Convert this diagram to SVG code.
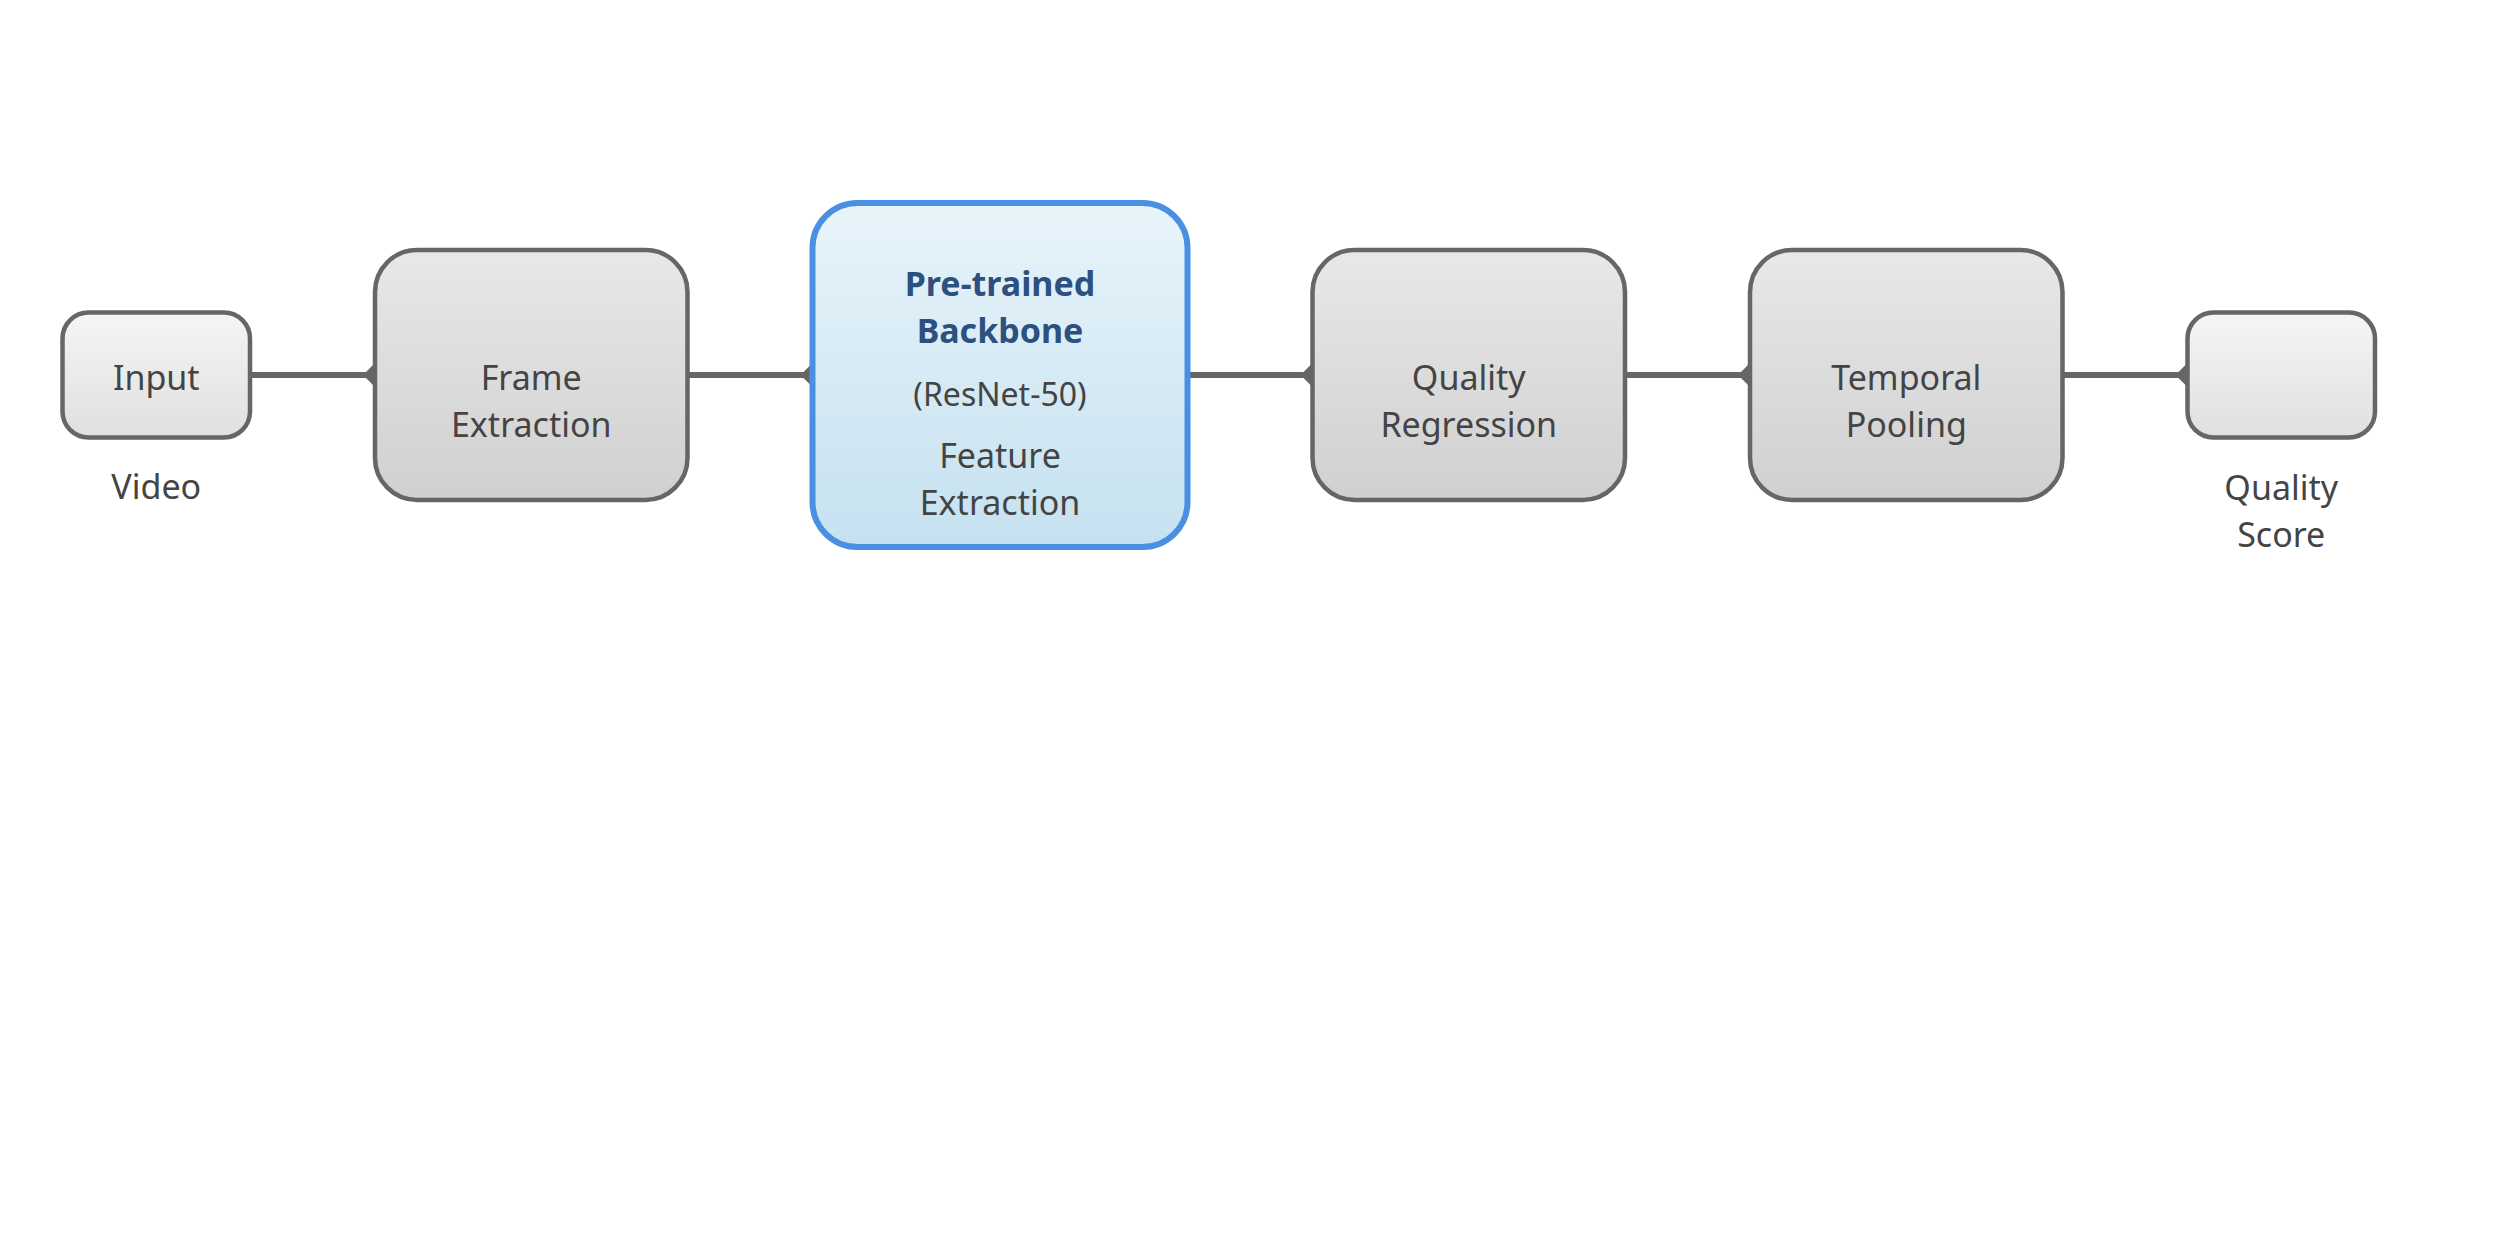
<svg xmlns="http://www.w3.org/2000/svg" width="2500" height="1250" viewBox="0 0 2500 1250">
  <defs>
    <linearGradient id="gSmall" x1="0" y1="0" x2="0" y2="1">
      <stop offset="0" stop-color="#f5f5f5"/>
      <stop offset="1" stop-color="#e0e0e0"/>
    </linearGradient>
    <linearGradient id="gBig" x1="0" y1="0" x2="0" y2="1">
      <stop offset="0" stop-color="#e8e8e8"/>
      <stop offset="1" stop-color="#d0d0d0"/>
    </linearGradient>
    <linearGradient id="gBlue" x1="0" y1="0" x2="0" y2="1">
      <stop offset="0" stop-color="#e8f4fa"/>
      <stop offset="1" stop-color="#c5e1f0"/>
    </linearGradient>
    <marker id="diamond" markerUnits="userSpaceOnUse" viewBox="0 0 24 24" refX="12" refY="12" markerWidth="24" markerHeight="24" orient="auto">
      <path d="M0,12 L12,0 L24,12 L12,24 Z" fill="#666666"/>
    </marker>
    <style>
      .box { stroke: #666666; stroke-width: 4.5; }
      .small { fill: url(#gSmall); }
      .big { fill: url(#gBig); }
      .hl { fill: url(#gBlue); stroke: #4a90e2; stroke-width: 6; }
      .t { font-family: "Noto Sans", "Open Sans", sans-serif; font-size: 34px; fill: #444444; text-anchor: middle; }
      .sub { font-size: 32px; }
      .title { font-weight: bold; fill: #2c5080; }
      .edge { stroke: #666666; stroke-width: 6; fill: none; marker-end: url(#diamond); }
    </style>
  </defs>
  <rect width="2500" height="1250" fill="#ffffff"/>

  <g id="connectors">
    <line class="edge" x1="250" y1="375" x2="375" y2="375"/>
    <line class="edge" x1="687.5" y1="375" x2="812.5" y2="375"/>
    <line class="edge" x1="1187.5" y1="375" x2="1312.5" y2="375"/>
    <line class="edge" x1="1625" y1="375" x2="1750" y2="375"/>
    <line class="edge" x1="2062.5" y1="375" x2="2187.5" y2="375"/>
  </g>

  <g id="input">
    <rect class="box small" x="62.5" y="312.5" width="187.5" height="125" rx="26" ry="26"/>
    <text class="t" x="156.25" y="390">Input</text>
    <text class="t" x="156.25" y="499">Video</text>
  </g>

  <g id="frame-extraction">
    <rect class="box big" x="375" y="250" width="312.5" height="250" rx="42" ry="42"/>
    <text class="t" x="531.25" y="390">Frame</text>
    <text class="t" x="531.25" y="437">Extraction</text>
  </g>

  <g id="backbone">
    <rect class="hl" x="812.5" y="203" width="375" height="344" rx="45" ry="45"/>
    <text class="t title" x="1000" y="296">Pre-trained</text>
    <text class="t title" x="1000" y="343">Backbone</text>
    <text class="t sub" x="1000" y="406">(ResNet-50)</text>
    <text class="t" x="1000" y="468">Feature</text>
    <text class="t" x="1000" y="515">Extraction</text>
  </g>

  <g id="quality-regression">
    <rect class="box big" x="1312.5" y="250" width="312.5" height="250" rx="42" ry="42"/>
    <text class="t" x="1468.75" y="390">Quality</text>
    <text class="t" x="1468.75" y="437">Regression</text>
  </g>

  <g id="temporal-pooling">
    <rect class="box big" x="1750" y="250" width="312.5" height="250" rx="42" ry="42"/>
    <text class="t" x="1906.25" y="390">Temporal</text>
    <text class="t" x="1906.25" y="437">Pooling</text>
  </g>

  <g id="quality-score">
    <rect class="box small" x="2187.5" y="312.5" width="187.5" height="125" rx="26" ry="26"/>
    <text class="t" x="2281.25" y="500">Quality</text>
    <text class="t" x="2281.25" y="547">Score</text>
  </g>
</svg>
